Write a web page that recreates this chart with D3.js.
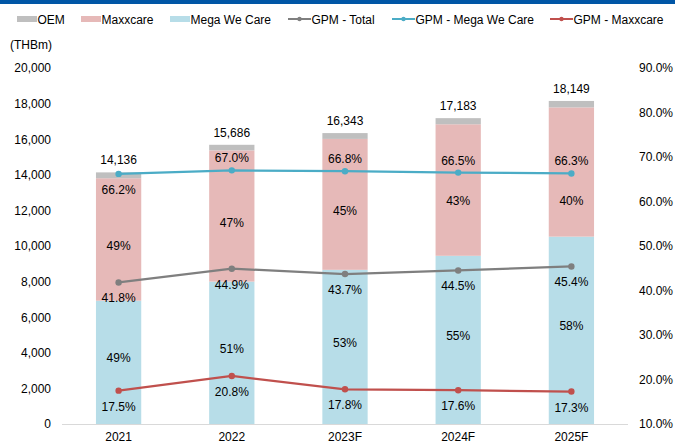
<!DOCTYPE html>
<html>
<head>
<meta charset="utf-8">
<script src="https://cdn.jsdelivr.net/npm/d3@7"></script>
<style>
  body { margin: 0; background: #fff; }
  svg { font-family: "Liberation Sans", Arial, sans-serif; }
</style>
</head>
<body>
<svg id="chart" width="675" height="444"></svg>
<script>
const years = ['2021', '2022', '2023F', '2024F', '2025F'];
const megaWeCare = [6927, 8000, 8662, 9450, 10526];
const maxxcare = [6880, 7372, 7354, 7389, 7260];
const oem = [329, 314, 327, 344, 363];
const totals = [14136, 15686, 16343, 17183, 18149];
const shareMega = ['49%', '51%', '53%', '55%', '58%'];
const shareMaxx = ['49%', '47%', '45%', '43%', '40%'];
const gpmTotal = [41.8, 44.9, 43.7, 44.5, 45.4];
const gpmMega = [66.2, 67.0, 66.8, 66.5, 66.3];
const gpmMaxx = [17.5, 20.8, 17.8, 17.6, 17.3];
const leftTicks = [0, 2000, 4000, 6000, 8000, 10000, 12000, 14000, 16000, 18000, 20000];
const rightTicks = [10, 20, 30, 40, 50, 60, 70, 80, 90];

const colors = {
  oem: '#bfbfbf', maxx: '#e6b9b8', mega: '#b7dde8',
  lTotal: '#7f7f7f', lMega: '#4bacc6', lMaxx: '#c0504d'
};

const svg = d3.select('#chart');
const plotL = 62, plotR = 628, plotT = 68, plotB = 424;

// blue strip on top
svg.append('rect').attr('x', 0).attr('y', 0).attr('width', 675).attr('height', 4).attr('fill', '#0056a6');

const x = d3.scaleBand().domain(years).range([plotL, plotR]).paddingInner(0.6).paddingOuter(0.3);
const y = d3.scaleLinear().domain([0, 20000]).range([plotB, plotT]);
const y2 = d3.scaleLinear().domain([10, 90]).range([plotB, plotT]);

// left axis
svg.append('g')
  .attr('transform', `translate(${plotL},0)`)
  .call(d3.axisLeft(y).tickValues(leftTicks).tickFormat(d3.format(',')).tickSize(0).tickPadding(11))
  .call(g => g.select('.domain').remove())
  .selectAll('text').attr('font-size', 12).attr('fill', '#000').attr('font-family', 'Liberation Sans, Arial');

// right axis
svg.append('g')
  .attr('transform', `translate(${plotR},0)`)
  .call(d3.axisRight(y2).tickValues(rightTicks).tickFormat(d => d.toFixed(1) + '%').tickSize(0).tickPadding(11))
  .call(g => g.select('.domain').remove())
  .selectAll('text').attr('font-size', 12).attr('fill', '#000').attr('font-family', 'Liberation Sans, Arial');

// baseline
svg.append('line').attr('x1', plotL).attr('x2', plotR).attr('y1', plotB + 0.5).attr('y2', plotB + 0.5)
  .attr('stroke', '#d9d9d9').attr('stroke-width', 1);

// x labels
svg.append('g').selectAll('text').data(years).join('text')
  .attr('x', d => x(d) + x.bandwidth() / 2).attr('y', 441)
  .attr('text-anchor', 'middle').attr('font-size', 12).text(d => d);

// stacked bars
const rows = years.map((yr, i) => ({ year: yr, mega: megaWeCare[i], maxx: maxxcare[i], oem: oem[i] }));
const stack = d3.stack().keys(['mega', 'maxx', 'oem'])(rows);
svg.append('g').selectAll('g').data(stack).join('g')
  .attr('fill', d => colors[d.key])
  .selectAll('rect').data(d => d).join('rect')
    .attr('x', d => x(d.data.year))
    .attr('width', x.bandwidth())
    .attr('y', d => y(d[1]))
    .attr('height', d => y(d[0]) - y(d[1]));

const cx = d => x(d) + x.bandwidth() / 2;

// share labels
const labels = svg.append('g').attr('font-size', 12).attr('text-anchor', 'middle').attr('fill', '#000');
labels.selectAll('.sm').data(stack[0]).join('text')
  .attr('x', d => cx(d.data.year)).attr('y', d => (y(d[0]) + y(d[1])) / 2)
  .text((d, i) => shareMega[i]);
// maxxcare share sits in the pink block, pushed clear of the GPM line label
labels.selectAll('.sx').data(stack[1]).join('text')
  .attr('x', d => cx(d.data.year))
  .attr('y', (d, i) => Math.max((y(d[0]) + y(d[1])) / 2 + 7, y2(gpmMega[i]) + 28) + 4)
  .text((d, i) => shareMaxx[i]);
labels.selectAll('.tot').data(stack[2]).join('text')
  .attr('x', d => cx(d.data.year)).attr('y', d => y(d[1]) - 8)
  .text((d, i) => d3.format(',')(totals[i]));

// GPM lines
const line = d3.line().x((d, i) => cx(years[i])).y(d => y2(d));
const series = [
  { vals: gpmTotal, color: colors.lTotal, pos: () => 'below' },
  { vals: gpmMega, color: colors.lMega, pos: i => i === 0 ? 'below' : 'above' },
  { vals: gpmMaxx, color: colors.lMaxx, pos: () => 'below' }
];
series.forEach(s => {
  svg.append('path').datum(s.vals).attr('d', line)
    .attr('fill', 'none').attr('stroke', s.color).attr('stroke-width', 2.25);
  svg.append('g').selectAll('circle').data(s.vals).join('circle')
    .attr('cx', (d, i) => cx(years[i])).attr('cy', d => y2(d)).attr('r', 3.2).attr('fill', s.color);
  svg.append('g').selectAll('text').data(s.vals).join('text')
    .attr('x', (d, i) => cx(years[i]))
    .attr('y', (d, i) => s.pos(i) === 'above' ? y2(d) - 8 : y2(d) + 20)
    .attr('text-anchor', 'middle').attr('font-size', 12)
    .text(d => d.toFixed(1) + '%');
});

// legend
const legendItems = [
  { name: 'OEM', color: colors.oem, type: 'box', x: 17 },
  { name: 'Maxxcare', color: colors.maxx, type: 'box', x: 81 },
  { name: 'Mega We Care', color: colors.mega, type: 'box', x: 170 },
  { name: 'GPM - Total', color: colors.lTotal, type: 'line', x: 288 },
  { name: 'GPM - Mega We Care', color: colors.lMega, type: 'line', x: 392 },
  { name: 'GPM - Maxxcare', color: colors.lMaxx, type: 'line', x: 550 }
];
const lg = svg.append('g').selectAll('g').data(legendItems).join('g')
  .attr('transform', d => `translate(${d.x},19)`);
lg.filter(d => d.type === 'box').append('rect')
  .attr('x', 0).attr('y', -3).attr('width', 20).attr('height', 6).attr('fill', d => d.color);
lg.filter(d => d.type === 'line').append('line')
  .attr('x1', 0).attr('x2', 23).attr('y1', 0).attr('y2', 0).attr('stroke', d => d.color).attr('stroke-width', 2);
lg.filter(d => d.type === 'line').append('circle')
  .attr('cx', 11.5).attr('cy', 0).attr('r', 2.2).attr('fill', d => d.color);
lg.append('text').attr('x', d => d.type === 'box' ? 20.5 : 23.5).attr('y', 4.5)
  .attr('font-size', 12).text(d => d.name);

svg.append('text').attr('x', 10).attr('y', 49).attr('font-size', 12).text('(THBm)');
</script>
</body>
</html>
